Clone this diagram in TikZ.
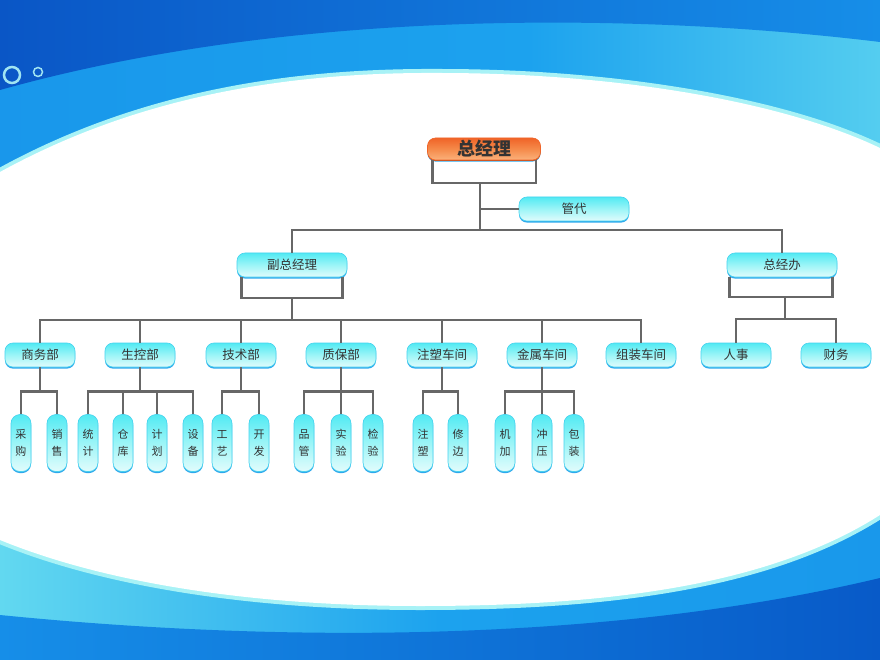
\documentclass[tikz,border=0pt]{standalone}
\usepackage{fontspec}
\setmainfont{Noto Sans CJK SC}
\definecolor{captop}{HTML}{52EAF3}
\definecolor{capmid}{HTML}{9CF5F7}
\definecolor{capbot}{HTML}{E2FCFC}
\definecolor{capline}{HTML}{46D2EE}
\definecolor{capshade}{HTML}{2FA8EC}
\definecolor{ortop}{HTML}{F06428}
\definecolor{ormid}{HTML}{F58A4A}
\definecolor{orbot}{HTML}{FBB27C}
\definecolor{txt}{HTML}{333333}
\definecolor{linkgray}{HTML}{676767}
\definecolor{bgblue}{HTML}{168EE8}
\definecolor{bgdark}{HTML}{0A56C6}
\definecolor{bgmid}{HTML}{1CA2EE}
\definecolor{bgcyan}{HTML}{62D8F0}
\definecolor{bglight}{HTML}{C0F4F6}
\definecolor{bgdeep}{HTML}{085AC8}
\definecolor{bgglow}{HTML}{A8F2F6}
\definecolor{bgring}{HTML}{A0E4F2}
\pgfdeclarehorizontalshading{topsky}{100bp}{color(0bp)=(bgblue); color(55bp)=(bgmid);
  color(80bp)=(bgcyan); color(100bp)=(bglight)}
\pgfdeclarehorizontalshading{lowsky}{100bp}{color(0bp)=(bglight); color(25bp)=(bgcyan);
  color(50bp)=(bgmid); color(100bp)=(bgblue)}
\tikzstyle{every node}+=[inner sep=0pt]
\tikzstyle{box}=[rectangle, rounded corners=8pt, minimum width=70pt, minimum height=24pt,
  draw=capline, line width=0.6pt, top color=captop, bottom color=capbot, middle color=capmid,
  preaction={fill=capshade, transform canvas={yshift=-1.6pt}},
  text=txt, font=\fontsize{12.5}{14}\selectfont]
\tikzstyle{vbox}=[box, rounded corners=9pt, minimum width=20pt, minimum height=57pt,
  align=center, font=\fontsize{11}{17}\selectfont]
\tikzstyle{topbox}=[box, minimum width=113pt, minimum height=22pt, draw=ortop,
  top color=ortop, bottom color=orbot, middle color=ormid,
  preaction={fill=ortop!80!black, transform canvas={yshift=-1pt}},
  font=\fontsize{18}{20}\selectfont\bfseries]
\tikzstyle{link}=[draw=linkgray, line width=2.6pt]

\begin{document}
\begin{tikzpicture}[x=1pt,y=-1pt]
\useasboundingbox (0,0) rectangle (880,660);
\tikzstyle{every node}+=[inner sep=0pt]

% background
\shade [shading=topsky] (0,0) rectangle (880,330);
\shade [left color=bgdark, right color=bgblue]
  (0,0) -- (880,0) -- (880,42) .. controls (650,14) and (300,6) .. (0,90) -- cycle;
\shade [shading=lowsky] (0,330) rectangle (880,660);
\shade [left color=bgblue, right color=bgdeep]
  (0,615) .. controls (300,645) and (620,640) .. (880,578) -- (880,660) -- (0,660) -- cycle;
\draw [bgglow, line width=8pt]
  (0,172) .. controls (140,95) and (290,72) .. (440,73) .. controls (610,73) and (780,100) .. (880,148)
  -- (880,515) .. controls (770,585) and (610,606) .. (420,606) .. controls (260,606) and (110,585) .. (0,540) -- cycle;
\fill [white]
  (0,172) .. controls (140,95) and (290,72) .. (440,73) .. controls (610,73) and (780,100) .. (880,148)
  -- (880,515) .. controls (770,585) and (610,606) .. (420,606) .. controls (260,606) and (110,585) .. (0,540) -- cycle;
\draw [bgring, line width=2.5pt] (12,75) circle (8);
\draw [bgring, line width=1.5pt] (38,72) circle (4.5);

% top levels
\node [topbox] (zjl) at (484,149) {总经理};
\node [box, minimum width=110pt] (gd) at (574,209) {管代};
\node [box, minimum width=110pt] (fzjl) at (292,265) {副总经理};
\node [box, minimum width=110pt] (zjb) at (782,265) {总经办};

\coordinate (zjlb) at (480,183);
\coordinate (bar) at (480,230);
\draw [link] ([xshift=5pt]zjl.south west) |- (zjlb) -| ([xshift=-5pt]zjl.south east);
\draw [link] (zjlb) -- (bar);
\draw [link] (zjlb |- gd) -- (gd);
\draw [link] (fzjl.north) |- (bar) -| (zjb.north);

% departments
\foreach \n/\x/\t in {swb/40/商务部, skb/140/生控部, jsb/241/技术部, zbb/341/质保部,
    zscj/442/注塑车间, jscj/542/金属车间, zzcj/641/组装车间, rs/736/人事, cw/836/财务}
  \node [box] (\n) at (\x,355) {\t};

\coordinate (fzb) at (292,298);
\coordinate (l3) at (292,320);
\draw [link] ([xshift=5pt]fzjl.south west) |- (fzb) -| ([xshift=-5pt]fzjl.south east);
\draw [link] (fzb) -- (l3);
\foreach \n in {swb,skb,jsb,zbb,zscj,jscj,zzcj}
  \draw [link] (l3) -| (\n.north);

\coordinate (zjbb) at (785,297);
\coordinate (l3r) at (785,319);
\draw [link] ([xshift=3pt]zjb.south west) |- (zjbb) -| ([xshift=-5pt]zjb.south east);
\draw [link] (zjbb) -- (l3r);
\draw [link] (l3r) -| (rs.north);
\draw [link] (l3r) -| (cw.north);

% sections
\foreach \n/\x/\a/\b in {cg/21/采/购, xs/57/销/售, tj/88/统/计, ck/123/仓/库, jh/157/计/划,
    sb/193/设/备, gy/222/工/艺, kf/259/开/发, pg/304/品/管, sy/341/实/验, jy/373/检/验,
    zs/423/注/塑, xb/458/修/边, jj/505/机/加, cy/542/冲/压, bz/574/包/装}
  \node [vbox] (\n) at (\x,443) {\a\\\b};

\foreach \p/\c in {swb/cg, swb/xs, skb/tj, skb/ck, skb/jh, skb/sb, jsb/gy, jsb/kf,
    zbb/pg, zbb/sy, zbb/jy, zscj/zs, zscj/xb, jscj/jj, jscj/cy, jscj/bz}
  \draw [link] (\p.south) -- ++(0,24) -| (\c.north);
\end{tikzpicture}
\end{document}
